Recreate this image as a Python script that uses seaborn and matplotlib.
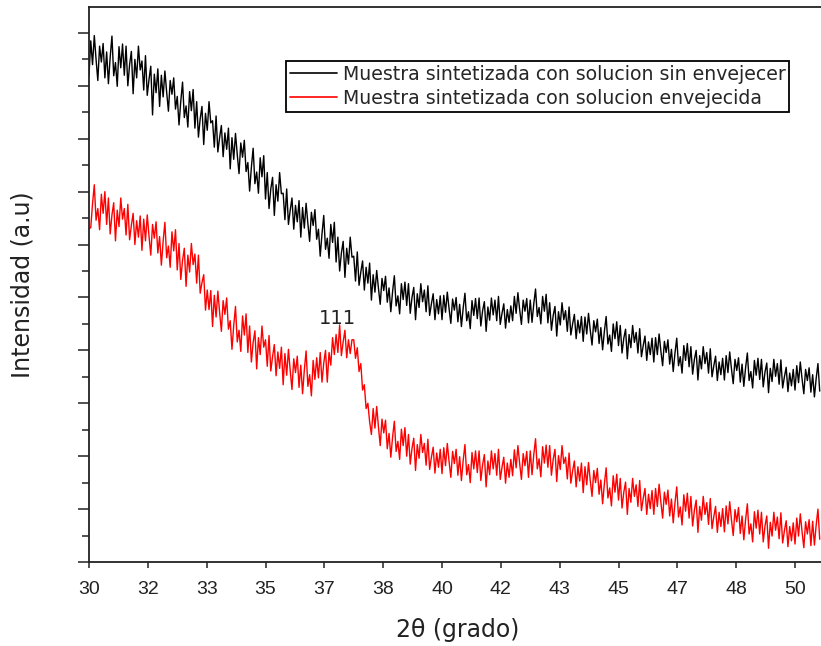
import numpy as np
import pandas as pd
import seaborn as sns
import matplotlib
matplotlib.use("Agg")
import matplotlib.pyplot as plt
from matplotlib.ticker import FixedLocator, FixedFormatter, MultipleLocator

# ---- data (arbitrary intensity units, 0.05 deg step) ----
sin_envejecer = [
    920, 985, 940, 995, 950, 910, 975, 945, 980, 915,
    964, 904, 954, 994, 919, 944, 899, 974, 934, 979,
    920, 975, 900, 940, 965, 885, 950, 915, 975, 930,
    947, 892, 957, 882, 912, 937, 845, 922, 887, 932,
    861, 920, 879, 928, 888, 852, 910, 884, 915, 856,
    880, 826, 871, 907, 840, 862, 822, 889, 853, 893,
    820, 870, 803, 838, 861, 789, 848, 816, 870, 830,
    834, 784, 843, 775, 802, 825, 766, 811, 780, 820,
    743, 802, 761, 810, 770, 734, 792, 765, 797, 738,
    755, 701, 746, 782, 715, 737, 697, 764, 728, 768,
    686, 736, 668, 705, 727, 655, 713, 682, 736, 696,
    697, 647, 705, 638, 665, 688, 629, 674, 643, 683,
    614, 670, 631, 678, 640, 606, 661, 636, 666, 610,
    629, 578, 620, 655, 591, 612, 574, 638, 604, 642,
    567, 614, 550, 584, 606, 538, 593, 563, 614, 576,
    578, 531, 586, 523, 548, 569, 514, 557, 527, 565,
    495, 543, 510, 551, 517, 487, 536, 513, 540, 491,
    518, 473, 511, 541, 484, 503, 469, 526, 496, 529,
    485, 526, 470, 500, 519, 458, 507, 481, 526, 492,
    514, 473, 522, 466, 488, 507, 458, 496, 469, 503,
    458, 504, 472, 510, 479, 451, 497, 476, 500, 454,
    487, 445, 480, 508, 456, 473, 441, 494, 466, 498,
    460, 499, 446, 475, 492, 436, 482, 457, 499, 467,
    495, 456, 502, 449, 470, 488, 442, 477, 453, 484,
    456, 502, 470, 509, 477, 449, 495, 474, 498, 452,
    495, 453, 488, 516, 464, 481, 450, 502, 474, 506,
    452, 490, 438, 466, 483, 427, 473, 448, 490, 458,
    475, 436, 482, 429, 450, 468, 422, 457, 433, 464,
    417, 463, 431, 470, 438, 410, 456, 435, 459, 413,
    443, 401, 436, 464, 412, 429, 398, 450, 422, 454,
    409, 447, 395, 423, 440, 384, 430, 405, 447, 415,
    434, 395, 441, 388, 409, 427, 381, 416, 392, 423,
    378, 424, 392, 431, 399, 371, 417, 396, 420, 374,
    402, 360, 395, 423, 371, 388, 357, 409, 381, 413,
    369, 407, 355, 383, 400, 344, 390, 365, 407, 375,
    396, 357, 403, 350, 371, 389, 343, 378, 354, 385,
    344, 390, 358, 397, 365, 337, 383, 362, 386, 340,
    374, 332, 367, 395, 343, 360, 329, 381, 353, 385,
    345, 383, 331, 359, 376, 320, 366, 341, 383, 351,
    375, 336, 382, 329, 350, 368, 322, 357, 333, 364,
    325, 371, 339, 378, 346, 318, 364, 343, 367, 321,
    354, 312, 347, 375, 323,
]

envejecida = [
    630, 632, 677, 713, 646, 668, 628, 695, 659, 700,
    638, 688, 620, 656, 679, 607, 665, 634, 688, 648,
    668, 618, 676, 609, 636, 659, 600, 645, 614, 654,
    589, 648, 607, 656, 616, 580, 638, 612, 643, 584,
    615, 561, 606, 642, 575, 597, 557, 624, 588, 628,
    552, 602, 534, 570, 593, 521, 580, 548, 602, 562,
    582, 527, 580, 508, 528, 543, 476, 514, 477, 513,
    445, 504, 463, 512, 472, 436, 494, 468, 499, 440,
    456, 402, 447, 483, 416, 438, 398, 465, 429, 469,
    396, 446, 378, 415, 437, 365, 424, 392, 446, 406,
    420, 370, 428, 361, 388, 411, 352, 397, 366, 406,
    335, 394, 353, 402, 362, 326, 384, 358, 389, 330,
    372, 318, 363, 399, 332, 354, 314, 381, 345, 386,
    348, 396, 340, 376, 400, 340, 396, 372, 424, 392,
    430, 396, 448, 390, 416, 438, 386, 420, 394, 420,
    420, 385, 405, 360, 375, 325, 335, 290, 300, 265,
    241, 290, 253, 294, 255, 220, 270, 244, 268, 214,
    243, 198, 236, 266, 209, 228, 194, 251, 220, 254,
    200, 241, 185, 215, 234, 173, 222, 196, 241, 207,
    224, 183, 232, 175, 198, 217, 168, 206, 179, 213,
    167, 216, 182, 224, 190, 160, 209, 186, 213, 164,
    199, 154, 192, 222, 165, 184, 150, 207, 176, 210,
    169, 210, 154, 184, 203, 142, 191, 165, 210, 176,
    205, 164, 213, 156, 179, 198, 149, 187, 160, 194,
    163, 212, 178, 220, 186, 156, 205, 182, 209, 160,
    210, 165, 203, 233, 176, 195, 161, 218, 187, 221,
    179, 220, 164, 194, 213, 152, 201, 175, 220, 186,
    198, 157, 206, 149, 172, 191, 142, 180, 153, 187,
    131, 180, 146, 188, 154, 124, 173, 150, 177, 128,
    155, 110, 148, 178, 121, 140, 106, 163, 132, 166,
    117, 158, 102, 132, 151, 90, 139, 113, 158, 124,
    146, 105, 154, 97, 120, 139, 90, 128, 101, 135,
    90, 139, 105, 147, 113, 83, 132, 109, 136, 87,
    119, 74, 112, 142, 85, 104, 70, 127, 96, 130,
    83, 124, 68, 98, 117, 56, 105, 79, 124, 90,
    112, 71, 120, 63, 86, 105, 56, 94, 67, 101,
    57, 106, 72, 114, 80, 50, 99, 76, 103, 54,
    87, 42, 80, 110, 53, 72, 38, 95, 64, 98,
    53, 94, 38, 68, 87, 26, 75, 49, 94, 60,
    85, 44, 93, 36, 59, 78, 29, 67, 40, 74,
    34, 83, 49, 91, 57, 27, 76, 53, 80, 31,
    77, 32, 70, 100, 43,
]

two_theta = np.round(np.linspace(30.0, 50.7, len(sin_envejecer)), 3)

series_labels = ["Muestra sintetizada con solucion sin envejecer",
                 "Muestra sintetizada con solucion envejecida"]
series_colors = ["#000000", "#ff0000"]

xtick_values = [30 + i * 5 / 3 for i in range(13)]
xtick_labels = ["30", "32", "33", "35", "37", "38", "40",
                "42", "43", "45", "47", "48", "50"]

df = pd.DataFrame({
    "2theta": np.concatenate([two_theta, two_theta]),
    "I": np.concatenate([sin_envejecer, envejecida]),
    "serie": [series_labels[0]] * len(two_theta) + [series_labels[1]] * len(two_theta),
})

# ---- style ----
sns.set_style("ticks")
plt.rcParams["font.family"] = ["Liberation Sans", "DejaVu Sans"]

W, H = 821, 646
fig = plt.figure(figsize=(W / 100, H / 100), dpi=100)
left, right, bottom, top = 89, 821, 562, 7
ax = fig.add_axes([left / W, (H - bottom) / H, (right - left) / W, (bottom - top) / H])

sns.lineplot(data=df, x="2theta", y="I", hue="serie", palette=series_colors,
             hue_order=series_labels, estimator=None, sort=False,
             linewidth=1.0, ax=ax)

ax.set_xlim(30, 30 + (right - left) / 35.3)
ax.set_ylim(0, (bottom - top) * 1.89)

ax.xaxis.set_major_locator(FixedLocator(xtick_values))
ax.xaxis.set_major_formatter(FixedFormatter(xtick_labels))
ax.yaxis.set_major_locator(MultipleLocator(100))
ax.yaxis.set_minor_locator(MultipleLocator(50))
ax.set_yticklabels([])

for s in ["left", "bottom", "top"]:
    ax.spines[s].set_linewidth(1.3)
    ax.spines[s].set_color("#222222")
ax.spines["right"].set_visible(False)

ax.tick_params(axis="x", which="major", direction="out", length=4.5, width=1.1,
               color="#222222", labelsize=14, pad=9.5, labelcolor="#222222")
ax.tick_params(axis="y", which="major", direction="out", length=8, width=1.1,
               color="#222222")
ax.tick_params(axis="y", which="minor", direction="out", length=5, width=1.1,
               color="#222222")
ax.tick_params(axis="x", which="minor", bottom=False)

ax.set_xlabel("2θ (grado)", fontsize=17, color="#222222", family="DejaVu Sans")
ax.set_ylabel("Intensidad (a.u)", fontsize=17, color="#222222", family="DejaVu Sans")
ax.xaxis.set_label_coords(0.504, -0.1)
ax.yaxis.set_label_coords(-0.074, 0.5)

ax.text(37.05, 461, "111", fontsize=14, ha="center", va="center",
        color="#222222", family="DejaVu Sans")

leg = ax.legend(loc="upper left", bbox_to_anchor=(286 / W, 1 - 61 / H),
                bbox_transform=fig.transFigure, borderaxespad=0,
                prop={"family": "DejaVu Sans", "size": 13.6},
                frameon=True, fancybox=False, framealpha=1,
                edgecolor="#000000", handlelength=2.5, handletextpad=0.3,
                labelspacing=0.28, borderpad=0.2)
leg.get_frame().set_linewidth(1.3)
for line in leg.get_lines():
    line.set_linewidth(1.2)

fig.savefig("out.png", dpi=100)
